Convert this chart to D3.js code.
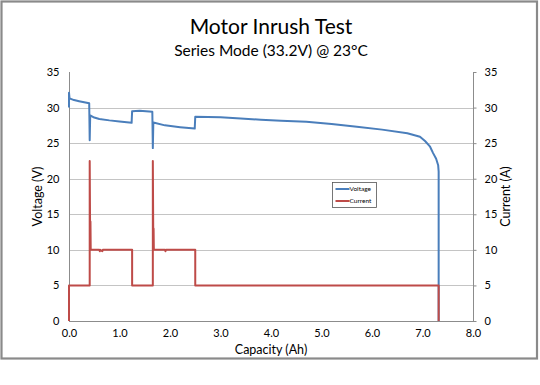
<!DOCTYPE html>
<html>
<head>
<meta charset="utf-8">
<script src="https://cdn.jsdelivr.net/npm/d3@7"></script>
<style>
	body{margin:0;background:#fff;}
	text{font-family:Lato,"Open Sans",sans-serif;fill:#000;}
	.grid line{stroke:#c4c4c4;stroke-width:1;}
	.axisLine{stroke:#8c8c8c;stroke-width:1;fill:none;}
	.tickLabel{font-size:11px;}
	.axisTitle{font-size:12.5px;}
</style>
</head>
<body>
<script>
(function(){
	//voltage trace (capacity in Ah, voltage in V)
	var voltCap=[0,0,0.01,0.1,0.2,0.3,0.40,0.41,0.42,0.5,0.6,0.8,1.0,1.24,1.25,1.4,1.65,1.66,1.67,1.9,2.2,2.49,2.5,3.0,3.4,3.8,4.2,4.7,5.2,5.7,6.2,6.7,6.95,7.05,7.15,7.21,7.27,7.31,7.32,7.32];
	var voltVal=[30.0,32.1,31.3,31.05,30.9,30.75,30.6,25.4,28.9,28.6,28.4,28.2,28.05,27.85,29.5,29.55,29.4,24.3,27.9,27.5,27.25,27.05,28.7,28.65,28.45,28.3,28.15,28.0,27.7,27.3,26.9,26.4,25.9,25.3,24.5,23.6,22.8,21.9,21.0,0];
	//current trace (capacity in Ah, current in A)
	var currCap=[0,0,0.41,0.41,0.42,0.425,0.43,0.6,0.61,0.62,0.66,0.67,1.25,1.25,1.66,1.66,1.67,1.675,1.68,1.9,1.91,1.92,2.5,2.5,5.7,5.71,7.32,7.32];
	var currVal=[0,5,5,22.5,10,14,10,10,9.8,10,9.8,10,10,5,5,22.5,10,13,10,10,9.8,10,10,5,5,5,5,0];
	//tick labels
	var xTicks=[0,1,2,3,4,5,6,7,8];
	var yTicks=[0,5,10,15,20,25,30,35];
	var seriesNames=["Voltage","Current"];
	var seriesColors=["#4a7ebb","#be4b48"];

	var width=540,
		height=385;

	//plot frame
	var left=69,
		right=473,
		top=72,
		bottom=321;

	var svg=d3.select("body")
		.append("svg")
		.attr("width",width)
		.attr("height",height);

	//outer chart border
	svg.append("rect")
		.attr("x",1.5)
		.attr("y",1.5)
		.attr("width",535.5)
		.attr("height",357)
		.attr("fill","#fff")
		.attr("stroke","#8a8a8a")
		.attr("stroke-width",2.2);

	//scales
	var x=d3.scaleLinear().domain([0,8]).range([left,right]);
	var yV=d3.scaleLinear().domain([0,35]).range([bottom,top]);
	var yA=d3.scaleLinear().domain([0,35]).range([bottom,top]);

	//titles
	svg.append("text")
		.attr("x",271)
		.attr("y",34)
		.attr("text-anchor","middle")
		.style("font-size","21px")
		.text("Motor Inrush Test");
	svg.append("text")
		.attr("x",271)
		.attr("y",56)
		.attr("text-anchor","middle")
		.style("font-size","15.5px")
		.text("Series Mode (33.2V) @ 23°C");

	//horizontal gridlines (not at 0 or 35)
	svg.append("g")
		.attr("class","grid")
		.selectAll("line")
		.data(yTicks.filter(function(d){return d>0 && d<35;}))
		.enter()
		.append("line")
		.attr("x1",left)
		.attr("x2",right)
		.attr("y1",function(d){return Math.round(yV(d))+0.5;})
		.attr("y2",function(d){return Math.round(yV(d))+0.5;});

	//left axis (no tick marks)
	var leftAxis=svg.append("g")
		.attr("transform","translate("+(left+0.5)+",0)")
		.call(d3.axisLeft(yV).tickValues(yTicks).tickSize(0).tickPadding(10));
	leftAxis.select(".domain").attr("class","axisLine").attr("d","M0,"+top+"V"+bottom);
	leftAxis.selectAll("text").attr("class","tickLabel");

	//right axis with small outward ticks
	var rightAxis=svg.append("g")
		.attr("transform","translate("+(right+0.5)+",0)")
		.call(d3.axisRight(yA).tickValues(yTicks).tickSize(3).tickPadding(8));
	rightAxis.select(".domain").attr("class","axisLine").attr("d","M0,"+top+"V"+bottom);
	rightAxis.selectAll("line").attr("stroke","#8c8c8c");
	rightAxis.selectAll("text").attr("class","tickLabel");

	//bottom axis
	var xAxis=svg.append("g")
		.attr("transform","translate(0,"+(bottom+0.5)+")")
		.call(d3.axisBottom(x).tickValues(xTicks).tickSize(0).tickPadding(8).tickFormat(d3.format(".1f")));
	xAxis.select(".domain").attr("class","axisLine").attr("d","M"+left+",0H"+(right+3));
	xAxis.selectAll("text").attr("class","tickLabel");

	//axis titles
	svg.append("text")
		.attr("class","axisTitle")
		.attr("x",(left+right)/2)
		.attr("y",354)
		.attr("text-anchor","middle")
		.text("Capacity (Ah)");
	svg.append("text")
		.attr("class","axisTitle")
		.attr("transform","translate(42,"+((top+bottom)/2)+") rotate(-90)")
		.attr("text-anchor","middle")
		.text("Voltage (V)");
	svg.append("text")
		.attr("class","axisTitle")
		.attr("transform","translate(510,"+((top+bottom)/2)+") rotate(-90)")
		.attr("text-anchor","middle")
		.text("Current (A)");

	//series lines
	var voltData=voltCap.map(function(c,i){return [c,voltVal[i]];});
	var currData=currCap.map(function(c,i){return [c,currVal[i]];});

	var voltLine=d3.line()
		.x(function(d){return x(d[0]);})
		.y(function(d){return yV(d[1]);});
	var currLine=d3.line()
		.x(function(d){return x(d[0]);})
		.y(function(d){return yA(d[1]);});

	svg.append("path")
		.datum(voltData)
		.attr("d",voltLine)
		.attr("fill","none")
		.attr("stroke",seriesColors[0])
		.attr("stroke-width",2)
		.attr("stroke-linejoin","round");

	svg.append("path")
		.datum(currData)
		.attr("d",currLine)
		.attr("fill","none")
		.attr("stroke",seriesColors[1])
		.attr("stroke-width",2)
		.attr("stroke-linejoin","round");

	//legend
	var legend=svg.append("g")
		.attr("transform","translate(332.5,182.5)");
	legend.append("rect")
		.attr("width",44)
		.attr("height",25)
		.attr("fill","#fff")
		.attr("stroke","#555")
		.attr("stroke-width",0.8);
	var items=legend.selectAll(".item")
		.data(seriesNames)
		.enter()
		.append("g")
		.attr("transform",function(d,i){return "translate(0,"+(6.5+i*12)+")";});
	items.append("line")
		.attr("x1",3)
		.attr("x2",17)
		.attr("stroke",function(d,i){return seriesColors[i];})
		.attr("stroke-width",2);
	items.append("text")
		.attr("x",17)
		.attr("y",2.2)
		.style("font-size","6.5px")
		.text(function(d){return d;});
})();
</script>
</body>
</html>
